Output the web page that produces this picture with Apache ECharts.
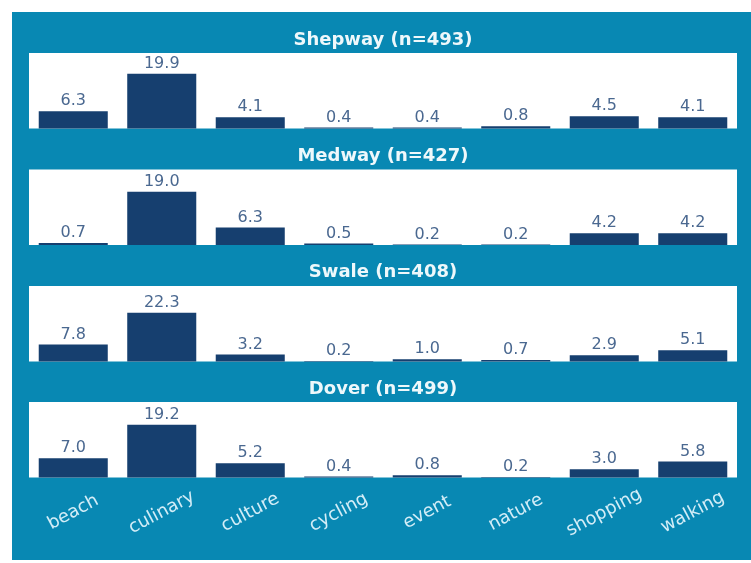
<!DOCTYPE html>
<html>
<head>
<meta charset="utf-8">
<script src="https://cdn.jsdelivr.net/npm/echarts@6/dist/echarts.min.js"></script>
<style>
html,body{margin:0;padding:0;background:#fff;}
#chart{width:751px;height:563px;}
</style>
</head>
<body>
<div id="chart"></div>
<script>
var categories = ['beach', 'culinary', 'culture', 'cycling', 'event', 'nature', 'shopping', 'walking'];
var panelTitles = ['Shepway (n=493)', 'Medway (n=427)', 'Swale (n=408)', 'Dover (n=499)'];
var shepway = [6.3, 19.9, 4.1, 0.4, 0.4, 0.8, 4.5, 4.1];
var medway  = [0.7, 19.0, 6.3, 0.5, 0.2, 0.2, 4.2, 4.2];
var swale   = [7.8, 22.3, 3.2, 0.2, 1.0, 0.7, 2.9, 5.1];
var dover   = [7.0, 19.2, 5.2, 0.4, 0.8, 0.2, 3.0, 5.8];
var panelMax = [27.5, 27.0, 34.5, 27.5];

var seriesData = [shepway, medway, swale, dover];
var gridTops = [53, 169.5, 286, 402];
var gridHeight = 75.5;
var titleCenters = [40, 156.5, 272.8, 389];

var chart = echarts.init(document.getElementById('chart'), null, {renderer: 'canvas'});

var grids = [], xAxes = [], yAxes = [], series = [], graphics = [];
graphics.push({
  type: 'rect', z: -10, silent: true,
  shape: {x: 12, y: 12, width: 739, height: 548},
  style: {fill: '#0888b3'}
});
for (var i = 0; i < 4; i++) {
  grids.push({
    left: 29, width: 708, top: gridTops[i], height: gridHeight,
    show: true, backgroundColor: '#ffffff', borderWidth: 0
  });
  xAxes.push({
    type: 'category', gridIndex: i, data: categories,
    axisLine: {show: false}, axisTick: {show: false},
    axisLabel: i === 3 ? {
      show: true, interval: 0, rotate: 28, margin: 35,
      align: 'center', verticalAlign: 'middle',
      color: '#d3edf7', fontSize: 18, fontFamily: 'DejaVu Sans'
    } : {show: false}
  });
  yAxes.push({
    type: 'value', gridIndex: i, min: 0, max: panelMax[i],
    show: false, splitLine: {show: false}
  });
  series.push({
    type: 'bar', xAxisIndex: i, yAxisIndex: i, data: seriesData[i],
    barCategoryGap: '22%',
    itemStyle: {color: '#163f6f'},
    label: {
      show: true, position: 'top', distance: 2,
      color: '#4a6890', fontSize: 16, fontFamily: 'DejaVu Sans',
      formatter: function (p) { return p.value.toFixed(1); }
    }
  });
  graphics.push({
    type: 'text', x: 383, y: titleCenters[i], silent: true,
    style: {
      text: panelTitles[i], fill: '#eef8fb',
      font: 'bold 18px "DejaVu Sans"',
      textAlign: 'center', textVerticalAlign: 'middle'
    }
  });
}

chart.setOption({
  animation: false,
  backgroundColor: '#ffffff',
  graphic: graphics,
  grid: grids,
  xAxis: xAxes,
  yAxis: yAxes,
  series: series
});
</script>
</body>
</html>
